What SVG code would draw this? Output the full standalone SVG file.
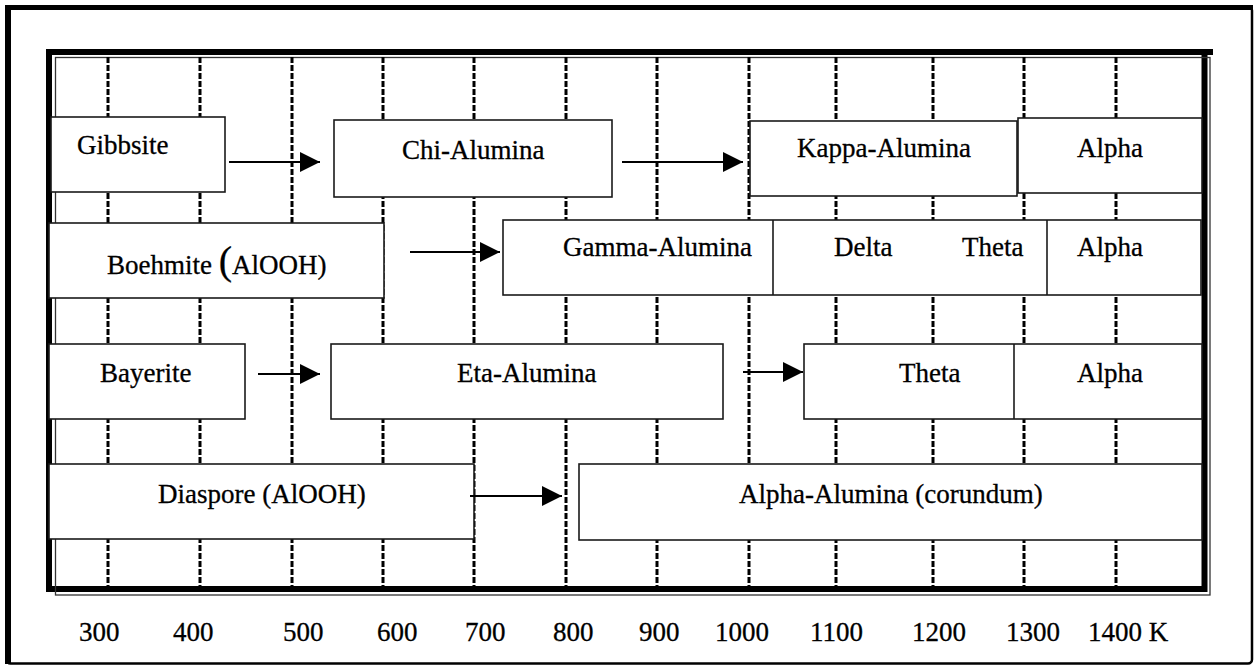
<svg xmlns="http://www.w3.org/2000/svg" width="1255" height="666" viewBox="0 0 1255 666">
<defs>
<style>
.box{fill:#fff;stroke:#1a1a1a;stroke-width:1.6}
.div{stroke:#1a1a1a;stroke-width:1.6}
.grid{stroke:#000;stroke-width:3;stroke-dasharray:6 2}
.arr{stroke:#000;stroke-width:2.2;fill:none;marker-end:url(#ah)}
.t{font-family:'Liberation Serif','Times New Roman',serif;font-size:27px;fill:#000;stroke:#000;stroke-width:0.3}
</style>
<marker id="ah" markerUnits="userSpaceOnUse" markerWidth="20" markerHeight="20" refX="20" refY="10" orient="auto">
<path d="M0,0 L20,10 L0,20 z" fill="#000"/>
</marker>
</defs>
<rect width="1255" height="666" fill="#fff"/>
<g id="outer-frame">
<rect x="6.5" y="6.5" width="1245.5" height="657" rx="4" fill="none" stroke="#000" stroke-width="2.5"/>
<rect x="5" y="5" width="1248" height="5" fill="#000"/>
<rect x="5" y="5" width="6" height="659" fill="#000"/>
</g>
<g id="chart-frame">
<rect x="49" y="52" width="1155.5" height="537" fill="none" stroke="#000" stroke-width="6"/>
<line x1="46" y1="52" x2="1213" y2="52" stroke="#000" stroke-width="6"/>
<rect x="55.5" y="57.5" width="1154.5" height="537.5" fill="none" stroke="#333" stroke-width="1.3"/>
</g>
<g id="grid">
<line class="grid" x1="108" y1="57" x2="108" y2="586"/>
<line class="grid" x1="200" y1="57" x2="200" y2="586"/>
<line class="grid" x1="292" y1="57" x2="292" y2="586"/>
<line class="grid" x1="383" y1="57" x2="383" y2="586"/>
<line class="grid" x1="474" y1="57" x2="474" y2="586"/>
<line class="grid" x1="566" y1="57" x2="566" y2="586"/>
<line class="grid" x1="657" y1="57" x2="657" y2="586"/>
<line class="grid" x1="749" y1="57" x2="749" y2="586"/>
<line class="grid" x1="836" y1="57" x2="836" y2="586"/>
<line class="grid" x1="933" y1="57" x2="933" y2="586"/>
<line class="grid" x1="1024" y1="57" x2="1024" y2="586"/>
<line class="grid" x1="1116" y1="57" x2="1116" y2="586"/>
</g>
<g id="gibbsite"><rect class="box" x="51" y="117" width="174" height="75"/><text class="t" x="77" y="154">Gibbsite</text></g>
<g id="chi-alumina"><rect class="box" x="334" y="120" width="278" height="77"/><text class="t" x="402" y="159">Chi-Alumina</text></g>
<g id="kappa-alumina"><rect class="box" x="750" y="121" width="267" height="75"/><text class="t" x="797" y="157">Kappa-Alumina</text></g>
<g id="alpha-1"><rect class="box" x="1018" y="118" width="184" height="75"/><text class="t" x="1077" y="157">Alpha</text></g>
<g id="boehmite"><rect class="box" x="49" y="223" width="335" height="75"/><text class="t" x="107" y="274">Boehmite <tspan style="font-size:40px">(</tspan>AlOOH)</text></g>
<g id="gamma-delta-theta-alpha">
<rect class="box" x="503" y="220" width="698" height="75"/>
<line class="div" x1="773" y1="220" x2="773" y2="295"/>
<line class="div" x1="1047" y1="220" x2="1047" y2="295"/>
<text class="t" x="563" y="256">Gamma-Alumina</text>
<text class="t" x="834" y="256">Delta</text>
<text class="t" x="962" y="256">Theta</text>
<text class="t" x="1077" y="256">Alpha</text>
</g>
<g id="bayerite"><rect class="box" x="49" y="344" width="196" height="75"/><text class="t" x="100" y="382">Bayerite</text></g>
<g id="eta-alumina"><rect class="box" x="331" y="344" width="392" height="75"/><text class="t" x="457" y="382">Eta-Alumina</text></g>
<g id="theta-alpha">
<rect class="box" x="804" y="344" width="398" height="75"/>
<line class="div" x1="1014" y1="344" x2="1014" y2="419"/>
<text class="t" x="899" y="382">Theta</text>
<text class="t" x="1077" y="382">Alpha</text>
</g>
<g id="diaspore"><rect class="box" x="49" y="464" width="425" height="75"/><text class="t" x="158" y="503">Diaspore (AlOOH)</text></g>
<g id="alpha-alumina"><rect class="box" x="579" y="464" width="623" height="76"/><text class="t" x="739" y="503">Alpha-Alumina (corundum)</text></g>
<g id="axis-labels">
<text class="t" x="79" y="641">300</text>
<text class="t" x="173" y="641">400</text>
<text class="t" x="283" y="641">500</text>
<text class="t" x="377" y="641">600</text>
<text class="t" x="465" y="641">700</text>
<text class="t" x="553" y="641">800</text>
<text class="t" x="639" y="641">900</text>
<text class="t" x="715" y="641">1000</text>
<text class="t" x="810" y="641">1100</text>
<text class="t" x="912" y="641">1200</text>
<text class="t" x="1006" y="641">1300</text>
<text class="t" x="1088" y="641">1400 K</text>
</g>
<g id="connectors">
<line class="arr" x1="229" y1="162" x2="320" y2="162"/>
<line class="arr" x1="622" y1="162" x2="743" y2="162"/>
<line class="arr" x1="410" y1="252" x2="500" y2="252"/>
<line class="arr" x1="258" y1="374" x2="320" y2="374"/>
<line class="arr" x1="743" y1="372" x2="803" y2="372"/>
<line class="arr" x1="470" y1="496" x2="562" y2="496"/>
</g>
</svg>
